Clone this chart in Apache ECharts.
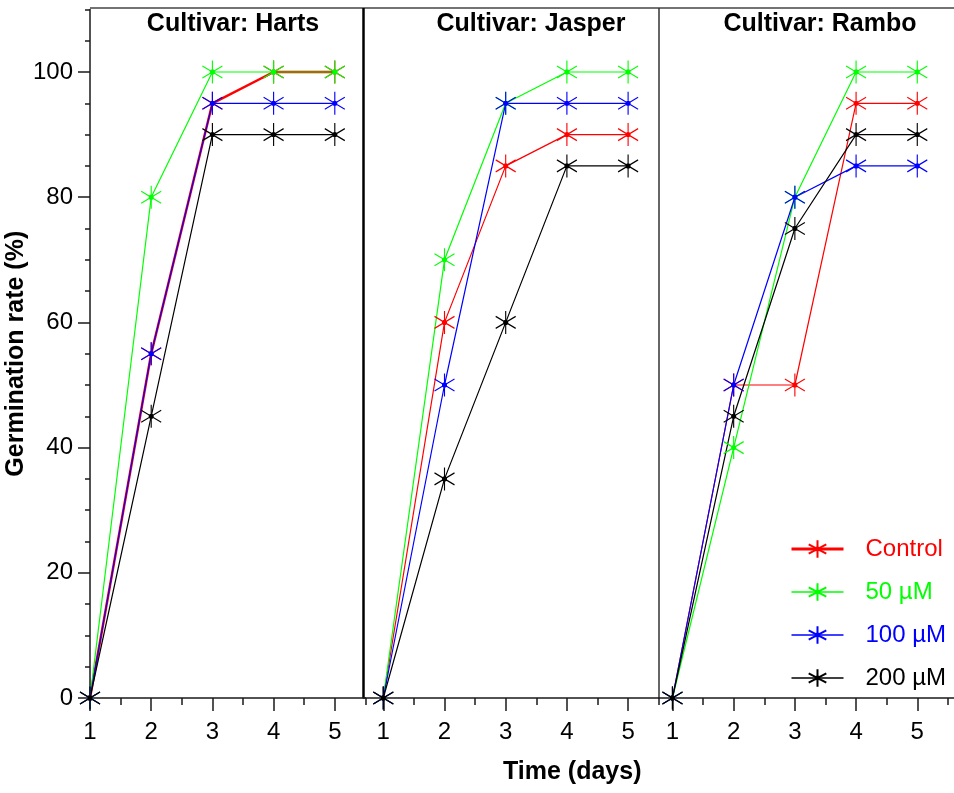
<!DOCTYPE html>
<html>
<head>
<meta charset="utf-8">
<style>
  html, body { margin: 0; padding: 0; background: #fff; }
  #main { width: 954px; height: 793px; }
</style>
<script src="https://cdn.jsdelivr.net/npm/echarts@6/dist/echarts.min.js"></script>
</head>
<body>
<div id="main"></div>
<script>
// data
const days = [1, 2, 3, 4, 5];
const treatments = ["Control", "50 µM", "100 µM", "200 µM"];
const cultivars = ["Cultivar: Harts", "Cultivar: Jasper", "Cultivar: Rambo"];

const hartsControl = [0, 55, 95, 100, 100];
const harts50 = [0, 80, 100, 100, 100];
const harts100 = [0, 55, 95, 95, 95];
const harts200 = [0, 45, 90, 90, 90];

const jasperControl = [0, 60, 85, 90, 90];
const jasper50 = [0, 70, 95, 100, 100];
const jasper100 = [0, 50, 95, 95, 95];
const jasper200 = [0, 35, 60, 85, 85];

const ramboControl = [0, 50, 50, 95, 95];
const rambo50 = [0, 40, 80, 100, 100];
const rambo100 = [0, 50, 80, 85, 85];
const rambo200 = [0, 45, 75, 90, 90];

const yLabels = [0, 20, 40, 60, 80, 100];
const yMinor = [0, 5, 10, 15, 20, 25, 30, 35, 40, 45, 50, 55, 60, 65, 70, 75, 80, 85, 90, 95, 100, 105, 110];
const xMinor = [1.5, 2.5, 3.5, 4.5, 5.5];

// look
const colors = ["#ff0000", "#00ff00", "#0000ff", "#000000"];
const FONT = "Liberation Sans, Arial, sans-serif";
const AXIS = "#1a1a1a";
// asterisk marker: vertical bar + two diagonals + center dot
const STAR = "path://M0,-11.5L0,11.5M-10,-6L10,6M-10,6L10,-6M-2,0A2,2,0,1,0,2,0A2,2,0,1,0,-2,0Z";

// panel layout (px per day ~61.2)
const panelBox = [
  { left: 90, width: 275.4, min: 1, max: 5.5 },
  { left: 363.1, width: 295.6, min: 0.67, max: 5.5 },
  { left: 659, width: 295, min: 0.78, max: 5.6 },
];
const panelData = [
  [hartsControl, harts50, harts100, harts200],
  [jasperControl, jasper50, jasper100, jasper200],
  [ramboControl, rambo50, rambo100, rambo200],
];
const titleX = [233, 531, 820];

const grid = [];
const xAxis = [];
const yAxis = [];
const series = [];
const tickLine = { color: AXIS, width: 1.5 };
const hidden = {
  show: false,
  axisLine: { show: false },
  axisTick: { show: false },
  axisLabel: { show: false },
  splitLine: { show: false },
};

// main panels: grid 0..2
panelBox.forEach((b, p) => {
  const first = p === 0;
  grid.push({ left: b.left, width: b.width, top: 9.4, bottom: 95 });
  xAxis.push({
    type: "value", gridIndex: p, min: b.min, max: b.max,
    axisLine: { show: true, onZero: false, lineStyle: tickLine },
    axisTick: { show: true, customValues: days, length: 13, lineStyle: tickLine },
    axisLabel: { customValues: days, margin: 22, fontSize: 24, color: "#000", fontFamily: FONT },
    splitLine: { show: false },
  });
  yAxis.push(first ? {
    type: "value", gridIndex: p, min: 0, max: 110,
    name: "Germination rate (%)",
    nameLocation: "middle", nameGap: 50,
    nameTextStyle: { fontSize: 25, fontWeight: "bold", color: "#000", fontFamily: FONT },
    axisLine: { show: true, onZero: false, lineStyle: tickLine },
    axisTick: { show: true, customValues: yMinor, length: 5, lineStyle: tickLine },
    axisLabel: { customValues: yLabels, margin: 17, fontSize: 24, color: "#000", fontFamily: FONT },
    splitLine: { show: false },
  } : Object.assign({ type: "value", gridIndex: p, min: 0, max: 110 }, hidden));

  panelData[p].forEach((vals, i) => {
    series.push({
      name: treatments[i],
      type: "line",
      xAxisIndex: p,
      yAxisIndex: p,
      data: days.map((d, k) => [d, vals[k]]),
      symbol: STAR,
      symbolSize: [20, 23],
      lineStyle: { color: colors[i], width: first && i === 0 ? 2.5 : 1.2 },
      itemStyle: { color: colors[i], borderColor: colors[i], borderWidth: 1.2 },
      emphasis: { disabled: true },
      animation: false,
    });
  });
});

// overlay grids 3..5: minor x ticks, long y ticks on the first panel
panelBox.forEach((b, p) => {
  grid.push({ left: b.left, width: b.width, top: 9.4, bottom: 95 });
  xAxis.push({
    type: "value", gridIndex: 3 + p, min: b.min, max: b.max,
    axisLine: { show: false, onZero: false },
    axisTick: { show: true, customValues: xMinor, length: 7, lineStyle: tickLine },
    axisLabel: { show: false },
    splitLine: { show: false },
  });
  yAxis.push(p === 0 ? {
    type: "value", gridIndex: 3 + p, min: 0, max: 110,
    axisLine: { show: false, onZero: false },
    axisTick: { show: true, customValues: yLabels, length: 12, lineStyle: tickLine },
    axisLabel: { show: false },
    splitLine: { show: false },
  } : Object.assign({ type: "value", gridIndex: 3 + p, min: 0, max: 110 }, hidden));
});

const graphic = [
  // frame: top border and panel dividers
  { type: "line", shape: { x1: 90, y1: 8, x2: 954, y2: 8 }, style: { stroke: "#444", lineWidth: 1.5 } },
  { type: "line", shape: { x1: 363.5, y1: 8, x2: 363.5, y2: 698 }, style: { stroke: "#000", lineWidth: 2.5 } },
  { type: "line", shape: { x1: 659, y1: 8, x2: 659, y2: 698 }, style: { stroke: "#333", lineWidth: 1.5 } },
  {
    type: "text", left: 503, top: 760,
    style: { text: "Time (days)", font: "bold 25px " + FONT, fill: "#000", textAlign: "center" },
  },
];
cultivars.forEach((c, p) => {
  graphic.push({
    type: "text", x: titleX[p], y: 24,
    style: { text: c, font: "bold 25px " + FONT, fill: "#000", textAlign: "center", textVerticalAlign: "middle" },
  });
});

const myChart = echarts.init(document.getElementById("main"));
myChart.setOption({
  animation: false,
  grid,
  xAxis,
  yAxis,
  series,
  legend: {
    orient: "vertical",
    left: 785,
    top: 532,
    itemWidth: 52,
    itemHeight: 22,
    itemGap: 19,
    selectedMode: false,
    data: treatments.map((t, i) => ({
      name: t,
      lineStyle: { width: i === 0 ? 3 : 1.5 },
      textStyle: { color: colors[i], fontSize: 24, fontFamily: FONT, padding: [0, 0, 0, 17] },
    })),
  },
  graphic,
});
</script>
</body>
</html>
